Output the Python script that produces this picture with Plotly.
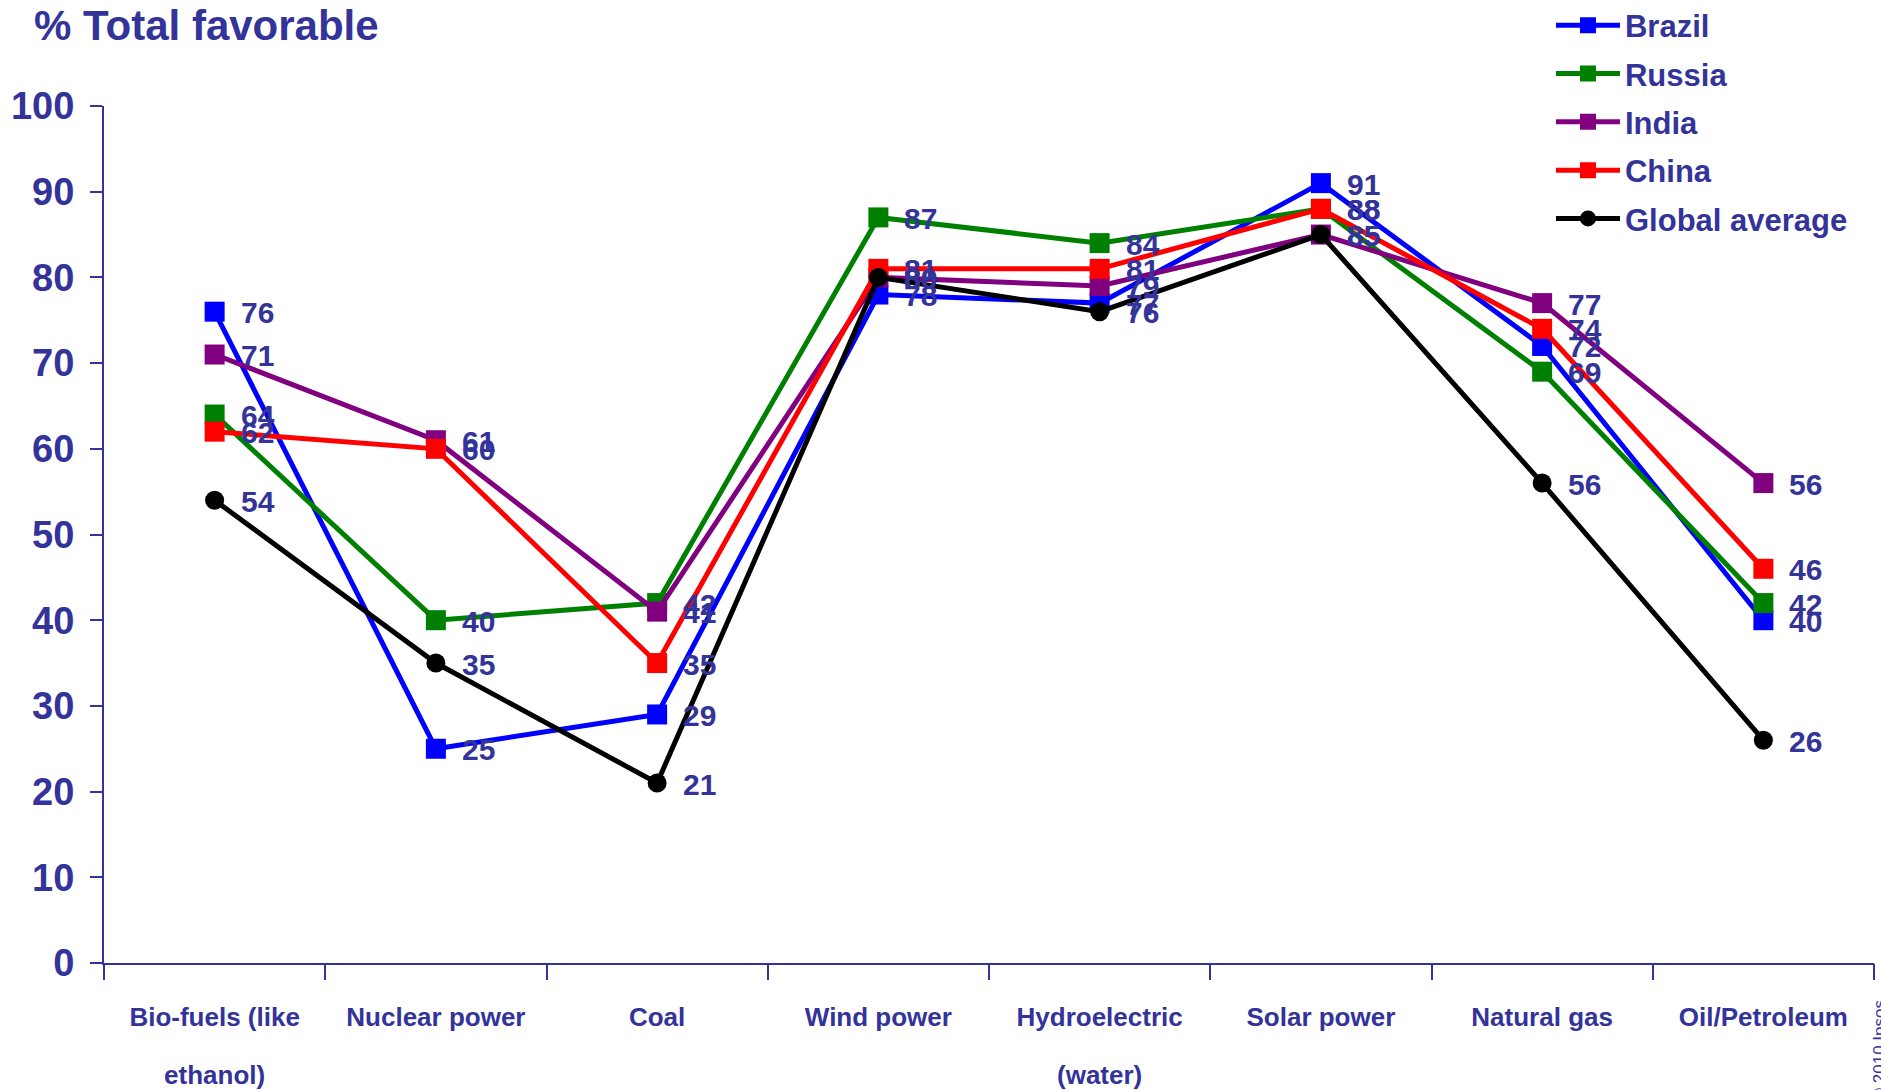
import plotly.graph_objects as go

# Survey results: share of respondents favourable to each energy source
categories = [
    "Bio-fuels (like<br>ethanol)",
    "Nuclear power",
    "Coal",
    "Wind power",
    "Hydroelectric<br>(water)",
    "Solar power",
    "Natural gas",
    "Oil/Petroleum",
]

brazil = [76, 25, 29, 78, 77, 91, 72, 40]
russia = [64, 40, 42, 87, 84, 88, 69, 42]
india = [71, 61, 41, 80, 79, 85, 77, 56]
china = [62, 60, 35, 81, 81, 88, 74, 46]
global_average = [54, 35, 21, 80, 76, 85, 56, 26]

series_names = ["Brazil", "Russia", "India", "China", "Global average"]
series_values = [brazil, russia, india, china, global_average]
series_colors = ["#0000FF", "#008000", "#800080", "#FF0000", "#000000"]
series_symbols = ["square", "square", "square", "square", "circle"]

y_ticks = [0, 10, 20, 30, 40, 50, 60, 70, 80, 90, 100]

INK = "#333399"
FONT = "Liberation Sans, Arial, sans-serif"

# tick labels: wide line pitch from the outer font size, glyphs drawn at 26px
x_labels = ['<span style="font-size:26px">' + c.replace("<br>", '</span><br><span style="font-size:26px">') + "</span>"
            for c in categories]

fig = go.Figure()

for name, vals, color, symbol in zip(series_names, series_values, series_colors, series_symbols):
    fig.add_trace(go.Scatter(
        x=list(range(len(categories))),
        y=vals,
        name=name,
        legendgroup=name,
        mode="lines+markers",
        line=dict(color=color, width=5),
        marker=dict(symbol=symbol, size=20 if symbol == "square" else 19, color=color, line=dict(width=0)),
        cliponaxis=False,
    ))

# value labels beside each point
annotations = []
for vals in series_values:
    for i, v in enumerate(vals):
        annotations.append(dict(
            x=i, y=v, xref="x", yref="y",
            text=str(v), showarrow=False,
            xanchor="left", yanchor="middle", xshift=24, yshift=-1,
            font=dict(family=FONT, size=30, color=INK, weight="bold"),
        ))

annotations.append(dict(
    x=-0.0407, y=1.094, xref="paper", yref="paper",
    text="% Total favorable", showarrow=False,
    xanchor="left", yanchor="middle",
    font=dict(family=FONT, size=42, color=INK, weight="bold"),
))

annotations.append(dict(
    x=0.9966, y=-0.0408, xref="paper", yref="paper",
    text="© 2010 Ipsos", showarrow=False, textangle=-90,
    xanchor="left", yanchor="top",
    font=dict(family=FONT, size=17, color=INK),
))

fig.update_layout(
    width=1881, height=1090,
    margin=dict(l=104, r=7, t=106, b=127, autoexpand=False),
    plot_bgcolor="white", paper_bgcolor="white",
    font=dict(family=FONT, color=INK),
    showlegend=True,
    legend=dict(
        x=0.8175, y=1.1253, xanchor="left", yanchor="top",
        bgcolor="rgba(0,0,0,0)",
        font=dict(family=FONT, size=31, color=INK, weight="bold"),
        tracegroupgap=5,
        itemwidth=64,
    ),
    annotations=annotations,
)

fig.update_xaxes(
    type="linear",
    range=[-0.5, 7.5],
    tickmode="array",
    tickvals=list(range(len(categories))),
    ticktext=x_labels,
    tickangle=0,
    showgrid=False, zeroline=False,
    showline=True, linecolor=INK, linewidth=2,
    ticks="",
    tickfont=dict(family=FONT, size=44.6, color=INK, weight="bold"),
    ticklabelstandoff=7,
    automargin=False,
)

# boundary ticks along the category axis
fig.add_trace(go.Scatter(x=[], y=[], showlegend=False, hoverinfo="skip"))
fig.update_layout(xaxis2=dict(
    overlaying="x", matches="x", side="bottom", anchor="y",
    tickmode="array", tickvals=[i - 0.5 for i in range(len(categories) + 1)],
    showticklabels=False, ticks="outside", ticklen=16, tickcolor=INK, tickwidth=1.5,
    showgrid=False, zeroline=False, showline=False, automargin=False,
))
fig.data[-1].update(xaxis="x2")

fig.update_yaxes(
    range=[0, 100],
    tickmode="array", tickvals=y_ticks,
    showgrid=False, zeroline=False,
    showline=True, linecolor=INK, linewidth=2,
    ticks="outside", ticklen=12, tickcolor=INK, tickwidth=1.5,
    tickfont=dict(family=FONT, size=38, color=INK, weight="bold"),
    ticklabelstandoff=8,
    automargin=False,
)

fig.write_html("out.html")
